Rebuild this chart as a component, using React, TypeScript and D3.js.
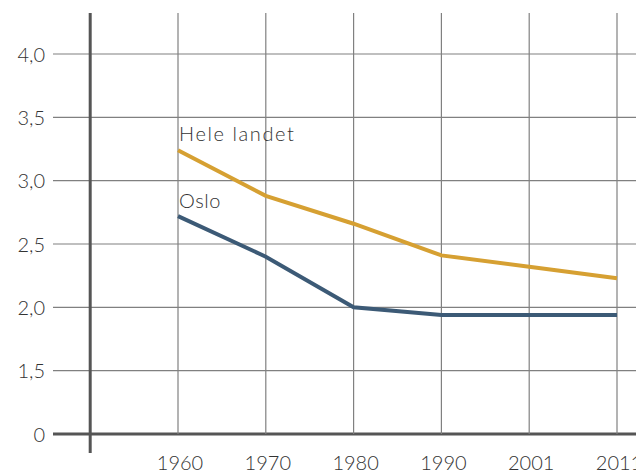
import React from "react";
import * as d3 from "d3";

const years = ["1960", "1970", "1980", "1990", "2001", "2011"];
const heleLandet = [3.24, 2.88, 2.66, 2.41, 2.32, 2.23];
const oslo = [2.72, 2.4, 2.0, 1.94, 1.94, 1.94];
// broken axis: the lowest tick sits at 1.0 but is labelled "0"
const yTicks = [1.0, 1.5, 2.0, 2.5, 3.0, 3.5, 4.0];
const yTickLabels = ["0", "1,5", "2,0", "2,5", "3,0", "3,5", "4,0"];

const W = 636;
const H = 474;

export default function App() {
  const x = d3.scaleLinear().domain([0, years.length - 1]).range([178, 617]);
  const y = d3.scaleLinear().domain([1.0, 4.0]).range([434, 54]);
  const axisX = x(-1);
  const font = "Lato, 'DejaVu Sans', sans-serif";

  const line = d3
    .line<number>()
    .x((d, i) => x(i))
    .y((d) => y(d));

  return (
    <svg
      width={W}
      height={H}
      style={{ position: "absolute", left: 0, top: 0, background: "#fff" }}
    >
      {/* horizontal grid */}
      {yTicks.map((t, i) => (
        <line
          key={"h" + t}
          x1={53}
          x2={W}
          y1={y(t)}
          y2={y(t)}
          stroke={i === 0 ? "#555" : "#808080"}
          strokeWidth={i === 0 ? 3 : 1.2}
        />
      ))}
      {/* vertical grid */}
      {years.map((yr, i) => (
        <line
          key={"v" + yr}
          x1={x(i)}
          x2={x(i)}
          y1={13}
          y2={y(1.0)}
          stroke="#808080"
          strokeWidth={1.2}
        />
      ))}
      {/* y axis */}
      <line x1={axisX} x2={axisX} y1={13} y2={453} stroke="#555" strokeWidth={3} />

      {/* y tick labels */}
      {yTicks.map((t, i) => (
        <text
          key={"yl" + t}
          x={45}
          y={y(t) + 7.5}
          textAnchor="end"
          fontFamily={font}
          fontWeight={300}
          fontSize={20}
          fill="#333"
        >
          {yTickLabels[i]}
        </text>
      ))}
      {/* x tick labels */}
      {years.map((yr, i) => (
        <text
          key={"xl" + yr}
          x={x(i) + 2}
          y={470}
          textAnchor="middle"
          fontFamily={font}
          fontWeight={300}
          fontSize={20}
          fill="#333"
        >
          {yr}
        </text>
      ))}

      <path d={line(heleLandet) ?? ""} fill="none" stroke="#D6A032" strokeWidth={4} />
      <path d={line(oslo) ?? ""} fill="none" stroke="#3C5A76" strokeWidth={4} />

      <text x={x(0) + 1} y={141} fontFamily={font} fontWeight={300} fontSize={20} letterSpacing={1.6} fill="#333">
        Hele landet
      </text>
      <text x={x(0) + 1} y={208} fontFamily={font} fontWeight={300} fontSize={20} letterSpacing={0.6} fill="#333">
        Oslo
      </text>
    </svg>
  );
}
